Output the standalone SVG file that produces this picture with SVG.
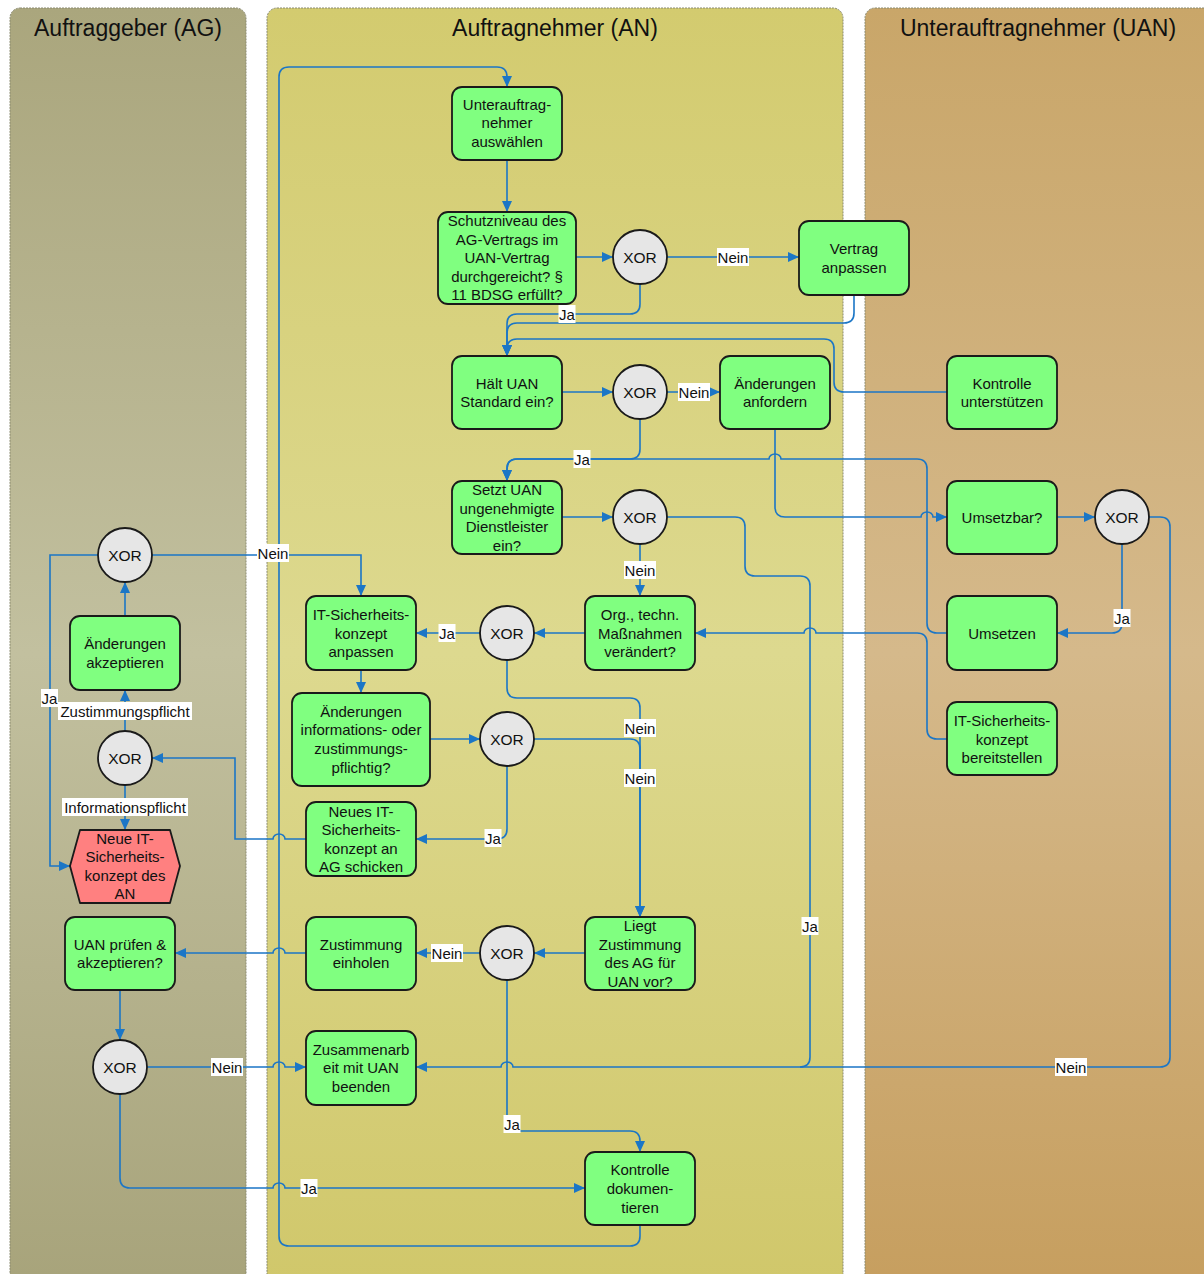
<svg xmlns="http://www.w3.org/2000/svg" width="1204" height="1274" viewBox="0 0 1204 1274">
<defs>
<linearGradient id="gAG" x1="0" y1="0" x2="0" y2="1"><stop offset="0" stop-color="#aaa67d"/><stop offset="0.5" stop-color="#c2c09f"/><stop offset="1" stop-color="#a7a37a"/></linearGradient>
<linearGradient id="gAN" x1="0" y1="0" x2="0" y2="1"><stop offset="0" stop-color="#d3cb6f"/><stop offset="0.5" stop-color="#ddd98f"/><stop offset="1" stop-color="#d0c76a"/></linearGradient>
<linearGradient id="gUAN" x1="0" y1="0" x2="0" y2="1"><stop offset="0" stop-color="#c9a669"/><stop offset="0.5" stop-color="#d5b98b"/><stop offset="1" stop-color="#c69e5e"/></linearGradient>
<marker id="arr" markerWidth="12" markerHeight="12" refX="11" refY="6" orient="auto" markerUnits="userSpaceOnUse"><path d="M0,1 L11,6 L0,11 z" fill="#1b76c6"/></marker>
</defs>
<style>
text{font-family:"Liberation Sans",Arial,sans-serif;fill:#111;text-anchor:middle;dominant-baseline:central}
.title{font-size:23px}
.lane{stroke:#8a8a70;stroke-width:1;stroke-dasharray:2 1}
.node rect,.node polygon{fill:#80ff80;stroke:#1a1a1a;stroke-width:1.8}
.node polygon.red{fill:#ff8080}
.node text{font-size:15px}
.xor circle{fill:#e6e6e6;stroke:#1a1a1a;stroke-width:1.8}
.xor text{font-size:15.5px}
.conn path{fill:none;stroke:#1b76c6;stroke-width:1.6}
.conn path.a{marker-end:url(#arr)}
.lbl rect{fill:#fff}
.lbl text{font-size:15px}
</style>

<g id="lanes">
<rect class="lane" x="10" y="8" width="236" height="1290" rx="10" fill="url(#gAG)"/>
<rect class="lane" x="267" y="8" width="576" height="1290" rx="10" fill="url(#gAN)"/>
<rect class="lane" x="865" y="8" width="360" height="1290" rx="10" fill="url(#gUAN)"/>
<text class="title" x="128" y="28">Auftraggeber (AG)</text>
<text class="title" x="555" y="28">Auftragnehmer (AN)</text>
<text class="title" x="1038" y="28">Unterauftragnehmer (UAN)</text>
</g>

<g id="connectors" class="conn">
<path class="a" d="M640,1225 V1236 Q640,1246 630,1246 H289 Q279,1246 279,1236 V77 Q279,67 289,67 H497 Q507,67 507,77 V87"/>
<path class="a" d="M507,160 V212"/>
<path class="a" d="M576,257 H613"/>
<path class="a" d="M667,257 H799"/>
<path class="a" d="M640,284 V304 Q640,314 630,314 H517 Q507,314 507,324 V356"/>
<path class="a" d="M854,295 V313 Q854,323 844,323 H517 Q507,323 507,333 V356"/>
<path class="a" d="M947,392 H844 Q834,392 834,382 V349 Q834,339 824,339 H517 Q507,339 507,349 V356"/>
<path class="a" d="M562,392 H613"/>
<path class="a" d="M667,392 H720"/>
<path class="a" d="M640,419 V449 Q640,459 630,459 H517 Q507,459 507,469 V481"/>
<path class="a" d="M947,633 H937 Q927,633 927,623 V469 Q927,459 917,459 H781 A6,5 0 0 0 769,459 H517 Q507,459 507,469 V481"/>
<path class="a" d="M775,429 V507 Q775,517 785,517 H921 A6,5 0 0 1 933,517 H947"/>
<path class="a" d="M562,517 H613"/>
<path class="a" d="M640,544 V596"/>
<path class="a" d="M667,517 H735 Q745,517 745,527 V566 Q745,576 755,576 H800 Q810,576 810,586 V1057 Q810,1067 800,1067 H513 A6,5 0 0 0 501,1067 H416"/>
<path d="M1149,517 H1160 Q1170,517 1170,527 V1057 Q1170,1067 1160,1067 H800"/>
<path class="a" d="M1057,517 H1095"/>
<path class="a" d="M1122,544 V623 Q1122,633 1112,633 H1057"/>
<path class="a" d="M947,739 H937 Q927,739 927,729 V643 Q927,633 917,633 H816 A6,5 0 0 0 804,633 H695"/>
<path class="a" d="M585,633 H534"/>
<path class="a" d="M480,633 H416"/>
<path class="a" d="M507,660 V688 Q507,698 517,698 H630 Q640,698 640,708 V917"/>
<path class="a" d="M534,739 H630 Q640,739 640,749 V917"/>
<path class="a" d="M361,670 V693"/>
<path class="a" d="M430,739 H480"/>
<path class="a" d="M507,766 V829 Q507,839 497,839 H416"/>
<path class="a" d="M306,839 H285 A6,5 0 0 0 273,839 H235 V758 H152"/>
<path class="a" d="M125,731 V690"/>
<path class="a" d="M125,785 V830"/>
<path class="a" d="M125,616 V582"/>
<path class="a" d="M98,555 H50 V866 H70"/>
<path class="a" d="M152,555 H361 V596"/>
<path class="a" d="M306,953 H285 A6,5 0 0 0 273,953 H175"/>
<path class="a" d="M585,953 H534"/>
<path class="a" d="M480,953 H416"/>
<path class="a" d="M507,980 V1131 H630 Q640,1131 640,1141 V1152"/>
<path class="a" d="M120,990 V1040"/>
<path class="a" d="M147,1067 H273 A6,5 0 0 1 285,1067 H306"/>
<path class="a" d="M120,1094 V1178 Q120,1188 130,1188 H273 A6,5 0 0 1 285,1188 H585"/>
</g>

<g id="labels" class="lbl">
<g><rect x="717" y="248" width="32" height="18"/><text x="733" y="257">Nein</text></g>
<g><rect x="558.500" y="305" width="17" height="18"/><text x="567" y="314">Ja</text></g>
<g><rect x="678" y="383" width="32" height="18"/><text x="694" y="392">Nein</text></g>
<g><rect x="573.500" y="450" width="17" height="18"/><text x="582" y="459">Ja</text></g>
<g><rect x="624" y="561" width="32" height="18"/><text x="640" y="570">Nein</text></g>
<g><rect x="438.500" y="624" width="17" height="18"/><text x="447" y="633">Ja</text></g>
<g><rect x="624" y="719" width="32" height="18"/><text x="640" y="728">Nein</text></g>
<g><rect x="624" y="769" width="32" height="18"/><text x="640" y="778">Nein</text></g>
<g><rect x="484.500" y="829" width="17" height="18"/><text x="493" y="838">Ja</text></g>
<g><rect x="1113.500" y="609" width="17" height="18"/><text x="1122" y="618">Ja</text></g>
<g><rect x="801.500" y="917" width="17" height="18"/><text x="810" y="926">Ja</text></g>
<g><rect x="257" y="544" width="32" height="18"/><text x="273" y="553">Nein</text></g>
<g><rect x="41" y="689" width="17" height="18"/><text x="49.500" y="698">Ja</text></g>
<g><rect x="58" y="702" width="134" height="18"/><text x="125" y="711">Zustimmungspflicht</text></g>
<g><rect x="62" y="798" width="126" height="18"/><text x="125" y="807">Informationspflicht</text></g>
<g><rect x="431" y="944" width="32" height="18"/><text x="447" y="953">Nein</text></g>
<g><rect x="211" y="1058" width="32" height="18"/><text x="227" y="1067">Nein</text></g>
<g><rect x="1055" y="1058" width="32" height="18"/><text x="1071" y="1067">Nein</text></g>
<g><rect x="503.500" y="1115" width="17" height="18"/><text x="512" y="1124">Ja</text></g>
<g><rect x="300.500" y="1179" width="17" height="18"/><text x="309" y="1188">Ja</text></g>
</g>

<g id="n-auswaehlen" class="node"><rect x="452" y="87" width="110" height="73" rx="10"/><text><tspan x="507" y="104">Unterauftrag-</tspan><tspan x="507" y="122">nehmer</tspan><tspan x="507" y="141">auswählen</tspan></text></g>
<g id="n-schutzniveau" class="node"><rect x="438" y="212" width="138" height="92" rx="10"/><text><tspan x="507" y="220">Schutzniveau des</tspan><tspan x="507" y="239">AG-Vertrags im</tspan><tspan x="507" y="257">UAN-Vertrag</tspan><tspan x="507" y="276">durchgereicht? §</tspan><tspan x="507" y="294">11 BDSG erfüllt?</tspan></text></g>
<g id="x1" class="xor"><circle cx="640" cy="257" r="27"/><text x="640" y="257">XOR</text></g>
<g id="n-vertrag" class="node"><rect x="799" y="221" width="110" height="74" rx="10"/><text><tspan x="854" y="248">Vertrag</tspan><tspan x="854" y="267">anpassen</tspan></text></g>
<g id="n-haelt" class="node"><rect x="452" y="356" width="110" height="73" rx="10"/><text><tspan x="507" y="383">Hält UAN</tspan><tspan x="507" y="401">Standard ein?</tspan></text></g>
<g id="x2" class="xor"><circle cx="640" cy="392" r="27"/><text x="640" y="392">XOR</text></g>
<g id="n-anfordern" class="node"><rect x="720" y="356" width="110" height="73" rx="10"/><text><tspan x="775" y="383">Änderungen</tspan><tspan x="775" y="401">anfordern</tspan></text></g>
<g id="n-kontrolle-unt" class="node"><rect x="947" y="356" width="110" height="73" rx="10"/><text><tspan x="1002" y="383">Kontrolle</tspan><tspan x="1002" y="401">unterstützen</tspan></text></g>
<g id="n-setzt" class="node"><rect x="452" y="481" width="110" height="73" rx="10"/><text><tspan x="507" y="489">Setzt UAN</tspan><tspan x="507" y="508">ungenehmigte</tspan><tspan x="507" y="526">Dienstleister</tspan><tspan x="507" y="545">ein?</tspan></text></g>
<g id="x3" class="xor"><circle cx="640" cy="517" r="27"/><text x="640" y="517">XOR</text></g>
<g id="n-umsetzbar" class="node"><rect x="947" y="481" width="110" height="73" rx="10"/><text x="1002" y="517">Umsetzbar?</text></g>
<g id="x4" class="xor"><circle cx="1122" cy="517" r="27"/><text x="1122" y="517">XOR</text></g>
<g id="xag1" class="xor"><circle cx="125" cy="555" r="27"/><text x="125" y="555">XOR</text></g>
<g id="n-itanpassen" class="node"><rect x="306" y="596" width="110" height="74" rx="10"/><text><tspan x="361" y="614">IT-Sicherheits-</tspan><tspan x="361" y="633">konzept</tspan><tspan x="361" y="651">anpassen</tspan></text></g>
<g id="x5" class="xor"><circle cx="507" cy="633" r="27"/><text x="507" y="633">XOR</text></g>
<g id="n-org" class="node"><rect x="585" y="596" width="110" height="74" rx="10"/><text><tspan x="640" y="614">Org., techn.</tspan><tspan x="640" y="633">Maßnahmen</tspan><tspan x="640" y="651">verändert?</tspan></text></g>
<g id="n-umsetzen" class="node"><rect x="947" y="596" width="110" height="74" rx="10"/><text x="1002" y="633">Umsetzen</text></g>
<g id="n-akzeptieren" class="node"><rect x="70" y="616" width="110" height="74" rx="10"/><text><tspan x="125" y="643">Änderungen</tspan><tspan x="125" y="662">akzeptieren</tspan></text></g>
<g id="n-pflichtig" class="node"><rect x="292" y="693" width="138" height="93" rx="10"/><text><tspan x="361" y="711">Änderungen</tspan><tspan x="361" y="729">informations- oder</tspan><tspan x="361" y="748">zustimmungs-</tspan><tspan x="361" y="767">pflichtig?</tspan></text></g>
<g id="x6" class="xor"><circle cx="507" cy="739" r="27"/><text x="507" y="739">XOR</text></g>
<g id="n-bereitstellen" class="node"><rect x="947" y="702" width="110" height="73" rx="10"/><text><tspan x="1002" y="720">IT-Sicherheits-</tspan><tspan x="1002" y="739">konzept</tspan><tspan x="1002" y="757">bereitstellen</tspan></text></g>
<g id="xag2" class="xor"><circle cx="125" cy="758" r="27"/><text x="125" y="758">XOR</text></g>
<g id="n-neues" class="node"><rect x="306" y="802" width="110" height="74" rx="10"/><text><tspan x="361" y="811">Neues IT-</tspan><tspan x="361" y="829">Sicherheits-</tspan><tspan x="361" y="848">konzept an</tspan><tspan x="361" y="866">AG schicken</tspan></text></g>
<g id="n-neue-event" class="node"><polygon class="red" points="80,830 170,830 180,866 170,903 80,903 70,866" stroke-linejoin="round"/><text><tspan x="125" y="838">Neue IT-</tspan><tspan x="125" y="856">Sicherheits-</tspan><tspan x="125" y="875">konzept des</tspan><tspan x="125" y="893">AN</tspan></text></g>
<g id="n-pruefen" class="node"><rect x="65" y="917" width="110" height="73" rx="10"/><text><tspan x="120" y="944">UAN prüfen &amp;</tspan><tspan x="120" y="962">akzeptieren?</tspan></text></g>
<g id="n-einholen" class="node"><rect x="306" y="917" width="110" height="73" rx="10"/><text><tspan x="361" y="944">Zustimmung</tspan><tspan x="361" y="962">einholen</tspan></text></g>
<g id="x7" class="xor"><circle cx="507" cy="953" r="27"/><text x="507" y="953">XOR</text></g>
<g id="n-liegt" class="node"><rect x="585" y="917" width="110" height="73" rx="10"/><text><tspan x="640" y="925">Liegt</tspan><tspan x="640" y="944">Zustimmung</tspan><tspan x="640" y="962">des AG für</tspan><tspan x="640" y="981">UAN vor?</tspan></text></g>
<g id="xag3" class="xor"><circle cx="120" cy="1067" r="27"/><text x="120" y="1067">XOR</text></g>
<g id="n-beenden" class="node"><rect x="306" y="1031" width="110" height="74" rx="10"/><text><tspan x="361" y="1049">Zusammenarb</tspan><tspan x="361" y="1067">eit mit UAN</tspan><tspan x="361" y="1086">beenden</tspan></text></g>
<g id="n-dokumentieren" class="node"><rect x="585" y="1152" width="110" height="73" rx="10"/><text><tspan x="640" y="1169">Kontrolle</tspan><tspan x="640" y="1188">dokumen-</tspan><tspan x="640" y="1207">tieren</tspan></text></g>
</svg>
